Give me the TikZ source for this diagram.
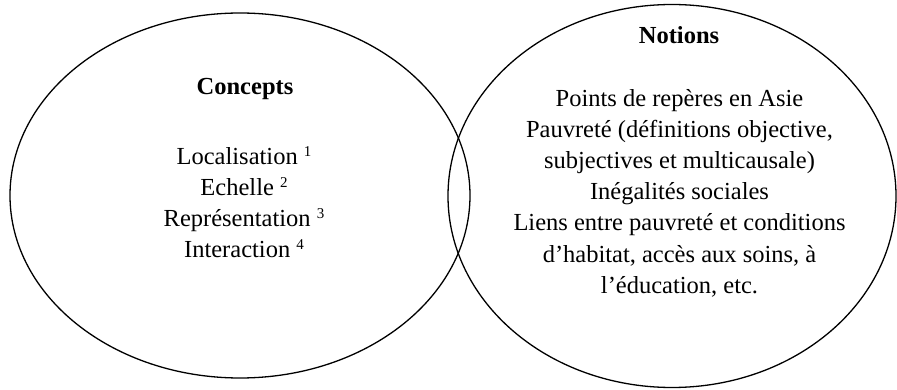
\documentclass[tikz,border=0pt]{standalone}
\usepackage{fontspec}
\setmainfont{Liberation Serif}
\newcommand{\supnum}[1]{\raisebox{8pt}{\fontsize{15}{15}\selectfont #1}}
\begin{document}
\begin{tikzpicture}[x=1pt,y=-1pt,
  circ/.style={line width=1.3pt},
  txt/.style={anchor=base,inner sep=0pt,font=\fontsize{24.5}{31}\selectfont},
  head/.style={txt,font=\fontsize{24.5}{31}\selectfont\bfseries}]
\useasboundingbox (0,0) rectangle (897,390);
\coordinate (cl) at (240,195.5);
\coordinate (cr) at (672,196);
\draw[circ] (cl) ellipse [x radius=230, y radius=182.5];
\draw[circ] (cr) ellipse [x radius=224, y radius=191.5];
% Concepts
\node[head] (concepts) at (245,95) {Concepts};
\node[txt] (c1) at (244,165) {Localisation \supnum{1}};
\node[txt] (c2) at (244,196) {Echelle \supnum{2}};
\node[txt] (c3) at (244,227) {Représentation \supnum{3}};
\node[txt] (c4) at (244,258) {Interaction \supnum{4}};
% Notions
\node[head] (notions) at (679,44) {Notions};
\node[txt] (n1) at (679.5,107) {Points de repères en Asie};
\node[txt] (n2) at (679.5,138) {Pauvreté (définitions objective,};
\node[txt] (n3) at (679.5,169) {subjectives et multicausale)};
\node[txt] (n4) at (679.5,200) {Inégalités sociales};
\node[txt] (n5) at (679.5,231) {Liens entre pauvreté et conditions};
\node[txt] (n6) at (679.5,262) {d’habitat, accès aux soins, à};
\node[txt] (n7) at (679.5,293) {l’éducation, etc.};
\end{tikzpicture}
\end{document}
